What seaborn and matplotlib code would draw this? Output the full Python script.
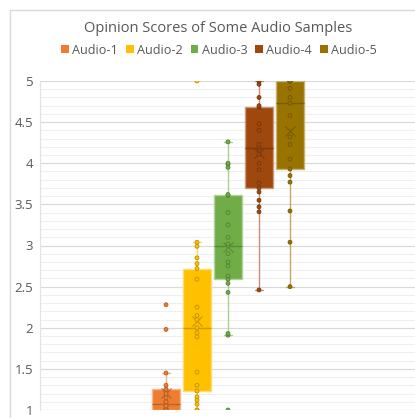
import matplotlib
matplotlib.use("Agg")
import matplotlib.pyplot as plt
import matplotlib.colors as mcolors
from matplotlib.patches import Patch, Rectangle
import numpy as np
import pandas as pd
import seaborn as sns

series = ["Audio-1", "Audio-2", "Audio-3", "Audio-4", "Audio-5"]
colors = ["#ED7D31", "#FFC000", "#70AD47", "#9E480E", "#997300"]

audio1 = [1.0, 1.0, 1.0, 1.0, 1.0, 1.0, 1.0, 1.0, 1.05, 1.05, 1.1, 1.1, 1.15,
          1.2, 1.25, 1.25, 1.3, 1.45, 1.98, 2.28]
audio2 = [1.0, 1.0, 1.07, 1.12, 1.16, 1.23, 1.3, 1.46, 1.89, 1.94, 2.0, 2.1,
          2.15, 2.25, 2.59, 2.72, 2.78, 2.85, 2.99, 3.04, 5.0]
audio3 = [1.0, 1.91, 1.93, 2.43, 2.54, 2.59, 2.63, 2.75, 2.8, 2.9, 3.0, 3.02,
          3.1, 3.25, 3.4, 3.61, 3.62, 3.95, 3.99, 4.0, 4.26]
audio4 = [2.46, 3.41, 3.47, 3.55, 3.65, 3.70, 3.76, 3.92, 4.0, 4.11, 4.18, 4.2,
          4.23, 4.4, 4.48, 4.68, 4.7, 4.8, 4.96, 5.0, 5.0]
audio5 = [2.5, 3.04, 3.42, 3.77, 3.85, 3.93, 4.05, 4.23, 4.32, 4.58, 4.73, 4.8,
          4.91, 5.0, 5.0, 5.0, 5.0, 5.0, 5.0, 5.0, 5.0]

title = "Opinion Scores of Some Audio Samples"
yticks = [1, 1.5, 2, 2.5, 3, 3.5, 4, 4.5, 5]
ytick_labels = ["1", "1.5", "2", "2.5", "3", "3.5", "4", "4.5", "5"]

values = [audio1, audio2, audio3, audio4, audio5]
df = pd.DataFrame({
    "series": np.concatenate([[s] * len(v) for s, v in zip(series, values)]),
    "score": np.concatenate(values),
})


def shade(c, f):
    r, g, b = mcolors.to_rgb(c)
    return (r * f, g * f, b * f)


def tint(c, f):
    r, g, b = mcolors.to_rgb(c)
    return (r + (1 - r) * f, g + (1 - g) * f, b + (1 - b) * f)


sns.set_style("white")
plt.rcParams["font.family"] = ["Open Sans", "DejaVu Sans"]

W, H = 415, 418
fig = plt.figure(figsize=(W / 100, H / 100), dpi=100)
ax = fig.add_axes([40 / W, 1 - 410 / H, 376 / W, (410 - 81) / H])

pal = dict(zip(series, colors))
sns.boxplot(data=df, x="series", y="score", hue="series", palette=pal,
            order=series, hue_order=series, width=0.9, showfliers=False,
            showmeans=True, legend=False, ax=ax, zorder=2,
            linewidth=1.0)

for i, cont in enumerate(ax.containers):
    c = colors[i]
    for b in cont.boxes:
        b.set_facecolor(c)
        b.set_edgecolor(tint(c, 0.45))
        b.set_linewidth(1.0)
    for m in cont.medians:
        m.set_color(shade(c, 0.8))
        m.set_linewidth(1.0)
    for w in cont.whiskers:
        w.set_color(tint(c, 0.4))
        w.set_linewidth(1.0)
    for cp in cont.caps:
        cp.set_color(tint(c, 0.4))
        cp.set_linewidth(1.0)
        xd = np.asarray(cp.get_xdata(), dtype=float)
        cx = xd.mean()
        cp.set_xdata([cx - 0.14, cx + 0.14])
    for mn in cont.means:
        mn.set_marker("x")
        mn.set_markeredgecolor(shade(c, 0.75))
        mn.set_markerfacecolor("none")
        mn.set_markersize(7)
        mn.set_markeredgewidth(0.7)

sns.stripplot(data=df, x="series", y="score", hue="series", palette=pal,
              order=series, hue_order=series, jitter=False, size=2.8,
              linewidth=0.6, edgecolor=(0.35, 0.3, 0.2, 0.8), legend=False,
              ax=ax, zorder=3)
for coll in ax.collections:
    fcs = coll.get_facecolors()
    if len(fcs):
        ec = [shade(fc[:3], 0.75) for fc in fcs]
        coll.set_edgecolors(ec)

ax.set_xlim(2 - 6.065, 2 + 6.065)
ax.set_ylim(1, 5)
ax.set_yticks(yticks)
ax.set_yticklabels(ytick_labels)
ax.set_yticks(np.round(np.arange(1, 5.0001, 0.1), 2), minor=True)
ax.grid(True, which="major", axis="y", color="#d9d9d9", lw=0.9, zorder=0)
ax.grid(True, which="minor", axis="y", color="#efefef", lw=0.8, zorder=0)
ax.set_axisbelow(True)
ax.set_xticks([])
ax.set_xlabel("")
ax.set_ylabel("")
ax.tick_params(axis="y", which="both", length=0, pad=5, labelsize=9.5,
               labelcolor="#595959")
for side in ["top", "right", "bottom"]:
    ax.spines[side].set_visible(False)
ax.spines["left"].set_color("#e3e3e3")
ax.spines["left"].set_linewidth(0.8)

# chart frame
fig.patches.append(Rectangle((10 / W, -0.1), 1.2, 1 - 10 / H + 0.1,
                             transform=fig.transFigure, facecolor="none",
                             edgecolor="#d9d9d9", lw=1.0))

fig.text(218 / W, 1 - 28 / H, title, ha="center", va="center",
         fontsize=10.5, color="#595959")

handles = [Patch(facecolor=c, edgecolor="none", label=s)
           for s, c in zip(series, colors)]
fig.legend(handles=handles, loc="center", bbox_to_anchor=(219 / W, 1 - 50 / H),
           ncol=5, frameon=False, fontsize=9.1, handlelength=0.6,
           handleheight=0.6, handletextpad=0.25, columnspacing=0.65,
           labelcolor="#595959")

fig.savefig("out.png", dpi=100)
